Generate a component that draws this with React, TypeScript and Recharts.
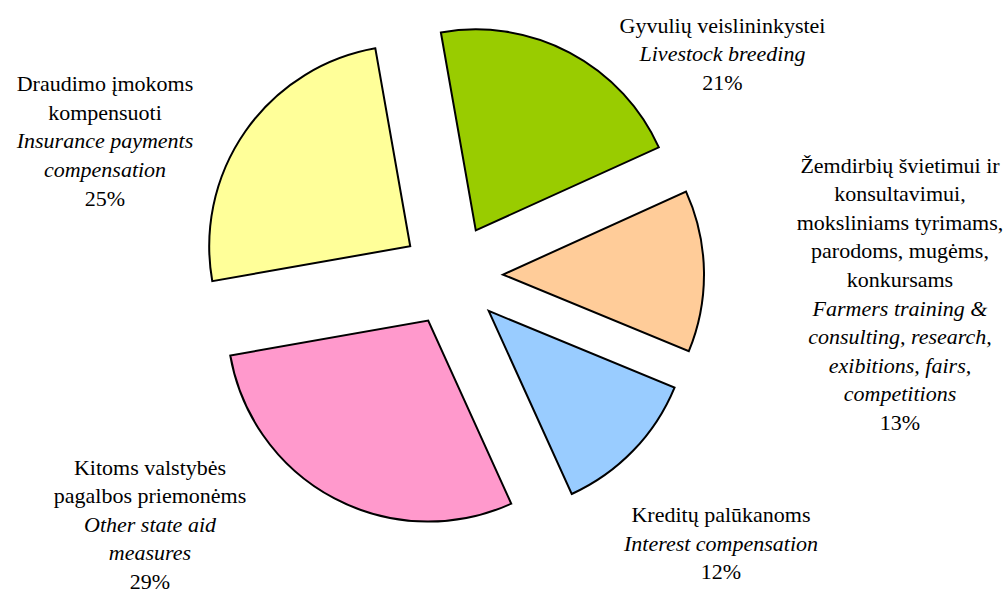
import React from "react"
import { Pie, PieChart, Sector } from "recharts"

// slices go clockwise from the livestock slice
const names = ["Livestock", "Training", "Interest", "Other aid", "Insurance"]
const shares = [21, 13, 12, 29, 25]
const colors = ["#99CC00", "#FFCC99", "#99CCFF", "#FF99CC", "#FFFF99"]

const labelsLt = [
  ["Gyvulių veislininkystei"],
  ["Žemdirbių švietimui ir", "konsultavimui,", "moksliniams tyrimams,", "parodoms, mugėms,", "konkursams"],
  ["Kreditų palūkanoms"],
  ["Kitoms valstybės", "pagalbos priemonėms"],
  ["Draudimo įmokoms", "kompensuoti"],
]
const labelsEn = [
  ["Livestock breeding"],
  ["Farmers training &", "consulting, research,", "exibitions, fairs,", "competitions"],
  ["Interest compensation"],
  ["Other state aid", "measures"],
  ["Insurance payments", "compensation"],
]

const data = names.map((name, i) => ({ name, value: shares[i] }))

// layout
const W = 1004
const H = 594
const CX = 452
const CY = 275.5
const EXPLODE = 51
const LINE_H = 28.6
const FONT_SIZE = 22
const BASELINE = 18.4 // baseline drop inside a 22px line box
// label block: centre x and first baseline, relative to pie centre
const LABEL_SHIFT: [number, number][] = [
  [270.5, -242.5],
  [448, -102.5],
  [269, 247],
  [-302, 199.5],
  [-347, -184],
]

// draws each slice pushed out along its own mid angle
const renderSlice = (props: any) => {
  const { cx, cy, midAngle, outerRadius, startAngle, endAngle, index } = props
  const rad = (-midAngle * Math.PI) / 180
  return (
    <Sector
      key={`slice-${index}`}
      cx={cx + EXPLODE * Math.cos(rad)}
      cy={cy + EXPLODE * Math.sin(rad)}
      innerRadius={0}
      outerRadius={outerRadius}
      startAngle={startAngle}
      endAngle={endAngle}
      fill={colors[index]}
      stroke="#000"
      strokeWidth={2}
    />
  )
}

function Labels() {
  return (
    <>
      {shares.map((v, idx) => {
        const [dx, dy] = LABEL_SHIFT[idx]
        const lines = [
          ...labelsLt[idx].map((t) => ({ t, italic: false })),
          ...labelsEn[idx].map((t) => ({ t, italic: true })),
          { t: `${v}%`, italic: false },
        ]
        return lines.map((l, i) => (
          <div
            key={`${idx}-${i}`}
            style={{
              position: "absolute",
              left: CX + dx,
              top: CY + dy + i * LINE_H - BASELINE,
              transform: "translateX(-50%)",
              whiteSpace: "nowrap",
              fontFamily: "'Liberation Serif', 'Times New Roman', serif",
              fontSize: FONT_SIZE,
              lineHeight: `${FONT_SIZE}px`,
              fontStyle: l.italic ? "italic" : "normal",
              color: "#000",
              pointerEvents: "none",
            }}
          >
            {l.t}
          </div>
        ))
      })}
    </>
  )
}

export default function App() {
  return (
    <div style={{ position: "absolute", left: 0, top: 0, width: W, height: H, background: "#fff" }}>
      <PieChart width={W} height={H} margin={{ top: 0, right: 0, bottom: 0, left: 0 }}>
        <Pie
          data={data}
          dataKey="value"
          nameKey="name"
          cx={CX}
          cy={CY}
          innerRadius={0}
          outerRadius={201}
          startAngle={100}
          endAngle={-260}
          fill="none"
          stroke="none"
          label={renderSlice}
          labelLine={false}
          isAnimationActive={false}
        />
      </PieChart>
      <Labels />
    </div>
  )
}
